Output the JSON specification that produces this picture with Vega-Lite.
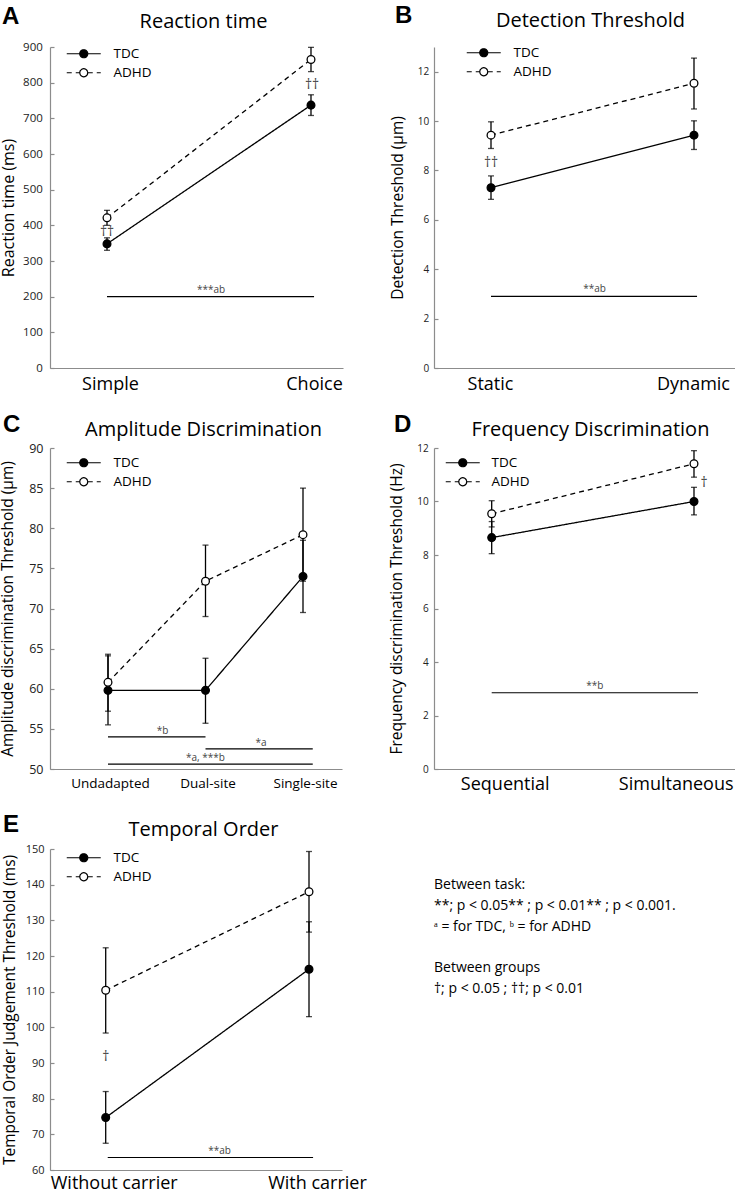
{
"$schema": "https://vega.github.io/schema/vega-lite/v6.json",
"background": "white",
"padding": {"top": 4, "left": 0, "right": 0, "bottom": 0},
"columns": 2,
"bounds": "flush",
"align": "each",
"spacing": {"row": 80, "column": 91},
"resolve": {"scale": {"x": "independent", "y": "independent", "fill": "independent", "strokeDash": "independent"}, "legend": {"fill": "independent", "strokeDash": "independent"}},
"datasets": {
"A": [
{"group": "TDC", "cond": "Simple", "idx": 0, "mean": 348, "lo": 330, "hi": 365},
{"group": "TDC", "cond": "Choice", "idx": 1, "mean": 737, "lo": 708, "hi": 766},
{"group": "ADHD", "cond": "Simple", "idx": 0, "mean": 421, "lo": 400, "hi": 442},
{"group": "ADHD", "cond": "Choice", "idx": 1, "mean": 865, "lo": 831, "hi": 899}],
"Asig": [{"x1": 0, "x2": 1.015, "xmid": 0.51, "y": 200, "label": "***ab"}],
"Adag": [{"x": 0, "y": 380, "text": "††"}, {"x": 1.005, "y": 793, "text": "††"}],
"B": [
{"group": "TDC", "cond": "Static", "idx": 0, "mean": 7.30, "lo": 6.83, "hi": 7.78},
{"group": "TDC", "cond": "Dynamic", "idx": 1, "mean": 9.43, "lo": 8.85, "hi": 10.01},
{"group": "ADHD", "cond": "Static", "idx": 0, "mean": 9.43, "lo": 8.89, "hi": 9.97},
{"group": "ADHD", "cond": "Dynamic", "idx": 1, "mean": 11.53, "lo": 10.49, "hi": 12.55}],
"Bsig": [{"x1": 0, "x2": 1.015, "xmid": 0.51, "y": 2.9, "label": "**ab"}],
"Bdag": [{"x": 0, "y": 8.29, "text": "††"}],
"C": [
{"group": "TDC", "cond": "Undadapted", "idx": 0, "mean": 59.8, "lo": 55.5, "hi": 64.1},
{"group": "TDC", "cond": "Dual-site", "idx": 1, "mean": 59.8, "lo": 55.7, "hi": 63.8},
{"group": "TDC", "cond": "Single-site", "idx": 2, "mean": 74.0, "lo": 69.5, "hi": 78.5},
{"group": "ADHD", "cond": "Undadapted", "idx": 0, "mean": 60.8, "lo": 57.2, "hi": 64.3},
{"group": "ADHD", "cond": "Dual-site", "idx": 1, "mean": 73.4, "lo": 69.0, "hi": 77.9},
{"group": "ADHD", "cond": "Single-site", "idx": 2, "mean": 79.2, "lo": 73.4, "hi": 85.0}],
"Csig": [
{"x1": 0, "x2": 1, "xmid": 0.56, "y": 54.0, "label": "*b"},
{"x1": 1, "x2": 2.1, "xmid": 1.57, "y": 52.5, "label": "*a"},
{"x1": 0, "x2": 2.1, "xmid": 1.0, "y": 50.6, "label": "*a, ***b"}],
"D": [
{"group": "TDC", "cond": "Sequential", "idx": 0, "mean": 8.65, "lo": 8.05, "hi": 9.25},
{"group": "TDC", "cond": "Simultaneous", "idx": 1, "mean": 10.0, "lo": 9.5, "hi": 10.53},
{"group": "ADHD", "cond": "Sequential", "idx": 0, "mean": 9.54, "lo": 9.05, "hi": 10.03},
{"group": "ADHD", "cond": "Simultaneous", "idx": 1, "mean": 11.41, "lo": 10.91, "hi": 11.9}],
"Dsig": [{"x1": 0, "x2": 1.02, "xmid": 0.51, "y": 2.85, "label": "**b"}],
"Ddag": [{"x": 1.05, "y": 10.7, "text": "†"}],
"E": [
{"group": "TDC", "cond": "Without carrier", "idx": 0, "mean": 74.7, "lo": 67.5, "hi": 82.0},
{"group": "TDC", "cond": "With carrier", "idx": 1, "mean": 116.3, "lo": 103.0, "hi": 129.6},
{"group": "ADHD", "cond": "Without carrier", "idx": 0, "mean": 110.4, "lo": 98.4, "hi": 122.3},
{"group": "ADHD", "cond": "With carrier", "idx": 1, "mean": 138.0, "lo": 126.7, "hi": 149.3}],
"Esig": [{"x1": 0.01, "x2": 1.02, "xmid": 0.56, "y": 63.5, "label": "**ab"}],
"Edag": [{"x": 0, "y": 91.6, "text": "†"}]
},
"concat": [
{
"width": 293, "height": 321,
"title": {"text": "A", "dx": -48, "dy": 42, "offset": 0, "baseline": "bottom"},
"resolve": {"axis": {"x": "independent", "y": "independent"}},
"layer": [
{"data": {"name": "A"}, "mark": {"type": "line", "color": "black", "strokeWidth": 1.3},
"encoding": {
"x": {"field": "idx", "type": "quantitative", "scale": {"domain": [-0.2794, 1.1569], "nice": false, "zero": false},
"axis": {"orient": "bottom", "values": [0, 1], "labelExpr": "datum.value == 0 ? 'Simple' : 'Choice'", "title": null, "ticks": false, "labelFontSize": 18, "labelPadding": 7, "labelOffset": 3, "labelFlush": false, "labelColor": "#000"}},
"y": {"field": "mean", "type": "quantitative", "scale": {"domain": [0, 900], "nice": false, "zero": false},
"axis": {"orient": "left", "values": [0, 100, 200, 300, 400, 500, 600, 700, 800, 900], "title": "Reaction time (ms)", "titleFontSize": 16, "labelFontSize": 11.5, "tickSize": -4, "labelPadding": 11.7, "titlePadding": 6.5}},
"strokeDash": {"field": "group", "type": "nominal", "scale": {"domain": ["TDC", "ADHD"], "range": [[1, 0], [5, 4]]},
"legend": {"title": null, "orient": "none", "legendX": 27, "legendY": 0, "symbolType": "M-3.4,0H-0.8M0.8,0H3.4M0.8,0A0.8,0.8,0,1,1,-0.8,0A0.8,0.8,0,1,1,0.8,0ZM0.8,0A0.8,0.8,0,0,1,0.4,0.693M0.4,0.693A0.8,0.8,0,0,1,-0.4,0.693M-0.4,0.693A0.8,0.8,0,0,1,-0.8,0M-0.8,0A0.8,0.8,0,0,1,-0.4,-0.693M-0.4,-0.693A0.8,0.8,0,0,1,0.4,-0.693M0.4,-0.693A0.8,0.8,0,0,1,0.8,0", "symbolSize": 100, "symbolStrokeColor": "black", "symbolStrokeWidth": 1.2, "labelFontSize": 13.5, "labelFont": "Open Sans", "labelColor": "black", "labelOffset": 23, "rowPadding": 4, "padding": 0}}}},
{"data": {"name": "A"}, "mark": {"type": "rule", "color": "black", "strokeWidth": 1.3},
"encoding": {"x": {"field": "idx", "type": "quantitative", "axis": null}, "y": {"field": "lo", "type": "quantitative", "axis": null}, "y2": {"field": "hi"}}},
{"data": {"name": "A"}, "mark": {"type": "tick", "orient": "horizontal", "color": "black", "size": 6, "thickness": 1.3},
"encoding": {"x": {"field": "idx", "type": "quantitative", "axis": null}, "y": {"field": "lo", "type": "quantitative", "axis": null}}},
{"data": {"name": "A"}, "mark": {"type": "tick", "orient": "horizontal", "color": "black", "size": 6, "thickness": 1.3},
"encoding": {"x": {"field": "idx", "type": "quantitative", "axis": null}, "y": {"field": "hi", "type": "quantitative", "axis": null}}},
{"data": {"name": "A"}, "mark": {"type": "point", "shape": "circle", "filled": true, "size": 60, "stroke": "black", "strokeWidth": 1.3, "opacity": 1},
"encoding": {"x": {"field": "idx", "type": "quantitative", "axis": null}, "y": {"field": "mean", "type": "quantitative", "axis": null},
"fill": {"field": "group", "type": "nominal", "scale": {"domain": ["TDC", "ADHD"], "range": ["black", "white"]},
"legend": {"title": null, "orient": "none", "legendX": 27, "legendY": 0, "symbolType": "M-3.4,0H-0.8M0.8,0H3.4M0.8,0A0.8,0.8,0,1,1,-0.8,0A0.8,0.8,0,1,1,0.8,0ZM0.8,0A0.8,0.8,0,0,1,0.4,0.693M0.4,0.693A0.8,0.8,0,0,1,-0.4,0.693M-0.4,0.693A0.8,0.8,0,0,1,-0.8,0M-0.8,0A0.8,0.8,0,0,1,-0.4,-0.693M-0.4,-0.693A0.8,0.8,0,0,1,0.4,-0.693M0.4,-0.693A0.8,0.8,0,0,1,0.8,0", "symbolSize": 100, "symbolStrokeColor": "black", "symbolStrokeWidth": 1.2, "labelFontSize": 13.5, "labelFont": "Open Sans", "labelColor": "black", "labelOffset": 23, "rowPadding": 4, "padding": 0}}}},
{"data": {"name": "Asig"}, "mark": {"type": "rule", "color": "black", "strokeWidth": 1.2},
"encoding": {"x": {"field": "x1", "type": "quantitative", "axis": {"orient": "top", "title": "Reaction time", "titleFontSize": 20, "titlePadding": 20, "titleX": 153, "titleBaseline": "alphabetic", "labels": false, "ticks": false, "domain": false}}, "x2": {"field": "x2"}, "y": {"field": "y", "type": "quantitative", "axis": null}}},
{"data": {"name": "Asig"}, "mark": {"type": "text", "fontSize": 10, "color": "#444", "fill": "#444", "baseline": "alphabetic", "dy": -4},
"encoding": {"x": {"field": "xmid", "type": "quantitative", "axis": null}, "y": {"field": "y", "type": "quantitative", "axis": null}, "text": {"field": "label"}}},
{"data": {"name": "Adag"}, "mark": {"type": "text", "fontSize": 14, "color": "#444", "fill": "#444", "baseline": "middle"},
"encoding": {"x": {"field": "x", "type": "quantitative", "axis": null}, "y": {"field": "y", "type": "quantitative", "axis": null}, "text": {"field": "text"}}}
]
},
{
"width": 301, "height": 321,
"title": {"text": "B", "dx": -39, "dy": 42, "offset": 0, "baseline": "bottom"},
"resolve": {"axis": {"x": "independent", "y": "independent"}},
"layer": [
{"data": {"name": "B"}, "mark": {"type": "line", "color": "black", "strokeWidth": 1.3},
"encoding": {
"x": {"field": "idx", "type": "quantitative", "scale": {"domain": [-0.2808, 1.202], "nice": false, "zero": false},
"axis": {"orient": "bottom", "values": [0, 1], "labelExpr": "datum.value == 0 ? 'Static' : 'Dynamic'", "title": null, "ticks": false, "labelFontSize": 18, "labelPadding": 7, "labelOffset": -1, "labelFlush": false, "labelColor": "#000"}},
"y": {"field": "mean", "type": "quantitative", "scale": {"domain": [0, 13], "nice": false, "zero": false},
"axis": {"orient": "left", "values": [0, 2, 4, 6, 8, 10, 12], "title": "Detection Threshold (μm)", "titleFontSize": 15.5, "labelFontSize": 10, "tickSize": -4, "labelPadding": 9.3, "titlePadding": 12}},
"strokeDash": {"field": "group", "type": "nominal", "scale": {"domain": ["TDC", "ADHD"], "range": [[1, 0], [5, 4]]},
"legend": {"title": null, "orient": "none", "legendX": 43, "legendY": -1, "symbolType": "M-3.4,0H-0.8M0.8,0H3.4M0.8,0A0.8,0.8,0,1,1,-0.8,0A0.8,0.8,0,1,1,0.8,0ZM0.8,0A0.8,0.8,0,0,1,0.4,0.693M0.4,0.693A0.8,0.8,0,0,1,-0.4,0.693M-0.4,0.693A0.8,0.8,0,0,1,-0.8,0M-0.8,0A0.8,0.8,0,0,1,-0.4,-0.693M-0.4,-0.693A0.8,0.8,0,0,1,0.4,-0.693M0.4,-0.693A0.8,0.8,0,0,1,0.8,0", "symbolSize": 100, "symbolStrokeColor": "black", "symbolStrokeWidth": 1.2, "labelFontSize": 13.5, "labelFont": "Open Sans", "labelColor": "black", "labelOffset": 23, "rowPadding": 4, "padding": 0}}}},
{"data": {"name": "B"}, "mark": {"type": "rule", "color": "black", "strokeWidth": 1.3},
"encoding": {"x": {"field": "idx", "type": "quantitative", "axis": null}, "y": {"field": "lo", "type": "quantitative", "axis": null}, "y2": {"field": "hi"}}},
{"data": {"name": "B"}, "mark": {"type": "tick", "orient": "horizontal", "color": "black", "size": 6, "thickness": 1.3},
"encoding": {"x": {"field": "idx", "type": "quantitative", "axis": null}, "y": {"field": "lo", "type": "quantitative", "axis": null}}},
{"data": {"name": "B"}, "mark": {"type": "tick", "orient": "horizontal", "color": "black", "size": 6, "thickness": 1.3},
"encoding": {"x": {"field": "idx", "type": "quantitative", "axis": null}, "y": {"field": "hi", "type": "quantitative", "axis": null}}},
{"data": {"name": "B"}, "mark": {"type": "point", "shape": "circle", "filled": true, "size": 60, "stroke": "black", "strokeWidth": 1.3, "opacity": 1},
"encoding": {"x": {"field": "idx", "type": "quantitative", "axis": null}, "y": {"field": "mean", "type": "quantitative", "axis": null},
"fill": {"field": "group", "type": "nominal", "scale": {"domain": ["TDC", "ADHD"], "range": ["black", "white"]},
"legend": {"title": null, "orient": "none", "legendX": 43, "legendY": -1, "symbolType": "M-3.4,0H-0.8M0.8,0H3.4M0.8,0A0.8,0.8,0,1,1,-0.8,0A0.8,0.8,0,1,1,0.8,0ZM0.8,0A0.8,0.8,0,0,1,0.4,0.693M0.4,0.693A0.8,0.8,0,0,1,-0.4,0.693M-0.4,0.693A0.8,0.8,0,0,1,-0.8,0M-0.8,0A0.8,0.8,0,0,1,-0.4,-0.693M-0.4,-0.693A0.8,0.8,0,0,1,0.4,-0.693M0.4,-0.693A0.8,0.8,0,0,1,0.8,0", "symbolSize": 100, "symbolStrokeColor": "black", "symbolStrokeWidth": 1.2, "labelFontSize": 13.5, "labelFont": "Open Sans", "labelColor": "black", "labelOffset": 23, "rowPadding": 4, "padding": 0}}}},
{"data": {"name": "Bsig"}, "mark": {"type": "rule", "color": "black", "strokeWidth": 1.2},
"encoding": {"x": {"field": "x1", "type": "quantitative", "axis": {"orient": "top", "title": "Detection Threshold", "titleFontSize": 20, "titlePadding": 21, "titleX": 156, "titleBaseline": "alphabetic", "labels": false, "ticks": false, "domain": false}}, "x2": {"field": "x2"}, "y": {"field": "y", "type": "quantitative", "axis": null}}},
{"data": {"name": "Bsig"}, "mark": {"type": "text", "fontSize": 10, "color": "#444", "fill": "#444", "baseline": "alphabetic", "dy": -4},
"encoding": {"x": {"field": "xmid", "type": "quantitative", "axis": null}, "y": {"field": "y", "type": "quantitative", "axis": null}, "text": {"field": "label"}}},
{"data": {"name": "Bdag"}, "mark": {"type": "text", "fontSize": 14, "color": "#444", "fill": "#444", "baseline": "middle"},
"encoding": {"x": {"field": "x", "type": "quantitative", "axis": null}, "y": {"field": "y", "type": "quantitative", "axis": null}, "text": {"field": "text"}}}
]
},
{
"width": 292, "height": 321,
"title": {"text": "C", "dx": -47, "dy": 42, "offset": 0, "baseline": "bottom"},
"resolve": {"axis": {"x": "independent", "y": "independent"}},
"layer": [
{"data": {"name": "C"}, "mark": {"type": "line", "color": "black", "strokeWidth": 1.3},
"encoding": {
"x": {"field": "idx", "type": "quantitative", "scale": {"domain": [-0.5949, 2.4], "nice": false, "zero": false},
"axis": {"orient": "bottom", "values": [0, 1, 2], "labelExpr": "datum.value == 0 ? 'Undadapted' : datum.value == 1 ? 'Dual-site' : 'Single-site'", "title": null, "ticks": false, "labelFontSize": 13.5, "labelPadding": 7, "labelOffset": 2, "labelFlush": false, "labelColor": "#000"}},
"y": {"field": "mean", "type": "quantitative", "scale": {"domain": [50, 90], "nice": false, "zero": false},
"axis": {"orient": "left", "values": [50, 55, 60, 65, 70, 75, 80, 85, 90], "title": "Amplitude discrimination Threshold (μm)", "titleFontSize": 15.5, "labelFontSize": 12.5, "tickSize": -4, "labelPadding": 11, "titlePadding": 13}},
"strokeDash": {"field": "group", "type": "nominal", "scale": {"domain": ["TDC", "ADHD"], "range": [[1, 0], [5, 4]]},
"legend": {"title": null, "orient": "none", "legendX": 27, "legendY": 8, "symbolType": "M-3.4,0H-0.8M0.8,0H3.4M0.8,0A0.8,0.8,0,1,1,-0.8,0A0.8,0.8,0,1,1,0.8,0ZM0.8,0A0.8,0.8,0,0,1,0.4,0.693M0.4,0.693A0.8,0.8,0,0,1,-0.4,0.693M-0.4,0.693A0.8,0.8,0,0,1,-0.8,0M-0.8,0A0.8,0.8,0,0,1,-0.4,-0.693M-0.4,-0.693A0.8,0.8,0,0,1,0.4,-0.693M0.4,-0.693A0.8,0.8,0,0,1,0.8,0", "symbolSize": 100, "symbolStrokeColor": "black", "symbolStrokeWidth": 1.2, "labelFontSize": 13.5, "labelFont": "Open Sans", "labelColor": "black", "labelOffset": 23, "rowPadding": 4, "padding": 0}}}},
{"data": {"name": "C"}, "mark": {"type": "rule", "color": "black", "strokeWidth": 1.3},
"encoding": {"x": {"field": "idx", "type": "quantitative", "axis": null}, "y": {"field": "lo", "type": "quantitative", "axis": null}, "y2": {"field": "hi"}}},
{"data": {"name": "C"}, "mark": {"type": "tick", "orient": "horizontal", "color": "black", "size": 6, "thickness": 1.3},
"encoding": {"x": {"field": "idx", "type": "quantitative", "axis": null}, "y": {"field": "lo", "type": "quantitative", "axis": null}}},
{"data": {"name": "C"}, "mark": {"type": "tick", "orient": "horizontal", "color": "black", "size": 6, "thickness": 1.3},
"encoding": {"x": {"field": "idx", "type": "quantitative", "axis": null}, "y": {"field": "hi", "type": "quantitative", "axis": null}}},
{"data": {"name": "C"}, "mark": {"type": "point", "shape": "circle", "filled": true, "size": 60, "stroke": "black", "strokeWidth": 1.3, "opacity": 1},
"encoding": {"x": {"field": "idx", "type": "quantitative", "axis": null}, "y": {"field": "mean", "type": "quantitative", "axis": null},
"fill": {"field": "group", "type": "nominal", "scale": {"domain": ["TDC", "ADHD"], "range": ["black", "white"]},
"legend": {"title": null, "orient": "none", "legendX": 27, "legendY": 8, "symbolType": "M-3.4,0H-0.8M0.8,0H3.4M0.8,0A0.8,0.8,0,1,1,-0.8,0A0.8,0.8,0,1,1,0.8,0ZM0.8,0A0.8,0.8,0,0,1,0.4,0.693M0.4,0.693A0.8,0.8,0,0,1,-0.4,0.693M-0.4,0.693A0.8,0.8,0,0,1,-0.8,0M-0.8,0A0.8,0.8,0,0,1,-0.4,-0.693M-0.4,-0.693A0.8,0.8,0,0,1,0.4,-0.693M0.4,-0.693A0.8,0.8,0,0,1,0.8,0", "symbolSize": 100, "symbolStrokeColor": "black", "symbolStrokeWidth": 1.2, "labelFontSize": 13.5, "labelFont": "Open Sans", "labelColor": "black", "labelOffset": 23, "rowPadding": 4, "padding": 0}}}},
{"data": {"name": "Csig"}, "mark": {"type": "rule", "color": "black", "strokeWidth": 1.2},
"encoding": {"x": {"field": "x1", "type": "quantitative", "axis": {"orient": "top", "title": "Amplitude Discrimination", "titleFontSize": 20, "titlePadding": 13, "titleX": 153, "titleBaseline": "alphabetic", "labels": false, "ticks": false, "domain": false}}, "x2": {"field": "x2"}, "y": {"field": "y", "type": "quantitative", "axis": null}}},
{"data": {"name": "Csig"}, "mark": {"type": "text", "fontSize": 10, "color": "#444", "fill": "#444", "baseline": "alphabetic", "dy": -3},
"encoding": {"x": {"field": "xmid", "type": "quantitative", "axis": null}, "y": {"field": "y", "type": "quantitative", "axis": null}, "text": {"field": "label"}}}
]
},
{
"width": 301, "height": 321,
"title": {"text": "D", "dx": -40, "dy": 42, "offset": 0, "baseline": "bottom"},
"resolve": {"axis": {"x": "independent", "y": "independent"}},
"layer": [
{"data": {"name": "D"}, "mark": {"type": "line", "color": "black", "strokeWidth": 1.3},
"encoding": {
"x": {"field": "idx", "type": "quantitative", "scale": {"domain": [-0.2852, 1.2027], "nice": false, "zero": false},
"axis": {"orient": "bottom", "values": [0, 1], "labelExpr": "datum.value == 0 ? 'Sequential' : 'Simultaneous'", "title": null, "ticks": false, "labelFontSize": 18, "labelPadding": 6, "labelOffset": 13, "labelFlush": 45, "labelFlushOffset": 26, "labelColor": "#000"}},
"y": {"field": "mean", "type": "quantitative", "scale": {"domain": [0, 12], "nice": false, "zero": false},
"axis": {"orient": "left", "values": [0, 2, 4, 6, 8, 10, 12], "title": "Frequency discrimination Threshold (Hz)", "titleFontSize": 15.5, "labelFontSize": 10, "tickSize": -4, "labelPadding": 9.7, "titlePadding": 12}},
"strokeDash": {"field": "group", "type": "nominal", "scale": {"domain": ["TDC", "ADHD"], "range": [[1, 0], [5, 4]]},
"legend": {"title": null, "orient": "none", "legendX": 22, "legendY": 8, "symbolType": "M-3.4,0H-0.8M0.8,0H3.4M0.8,0A0.8,0.8,0,1,1,-0.8,0A0.8,0.8,0,1,1,0.8,0ZM0.8,0A0.8,0.8,0,0,1,0.4,0.693M0.4,0.693A0.8,0.8,0,0,1,-0.4,0.693M-0.4,0.693A0.8,0.8,0,0,1,-0.8,0M-0.8,0A0.8,0.8,0,0,1,-0.4,-0.693M-0.4,-0.693A0.8,0.8,0,0,1,0.4,-0.693M0.4,-0.693A0.8,0.8,0,0,1,0.8,0", "symbolSize": 100, "symbolStrokeColor": "black", "symbolStrokeWidth": 1.2, "labelFontSize": 13.5, "labelFont": "Open Sans", "labelColor": "black", "labelOffset": 22, "rowPadding": 4, "padding": 0}}}},
{"data": {"name": "D"}, "mark": {"type": "rule", "color": "black", "strokeWidth": 1.3},
"encoding": {"x": {"field": "idx", "type": "quantitative", "axis": null}, "y": {"field": "lo", "type": "quantitative", "axis": null}, "y2": {"field": "hi"}}},
{"data": {"name": "D"}, "mark": {"type": "tick", "orient": "horizontal", "color": "black", "size": 6, "thickness": 1.3},
"encoding": {"x": {"field": "idx", "type": "quantitative", "axis": null}, "y": {"field": "lo", "type": "quantitative", "axis": null}}},
{"data": {"name": "D"}, "mark": {"type": "tick", "orient": "horizontal", "color": "black", "size": 6, "thickness": 1.3},
"encoding": {"x": {"field": "idx", "type": "quantitative", "axis": null}, "y": {"field": "hi", "type": "quantitative", "axis": null}}},
{"data": {"name": "D"}, "mark": {"type": "point", "shape": "circle", "filled": true, "size": 60, "stroke": "black", "strokeWidth": 1.3, "opacity": 1},
"encoding": {"x": {"field": "idx", "type": "quantitative", "axis": null}, "y": {"field": "mean", "type": "quantitative", "axis": null},
"fill": {"field": "group", "type": "nominal", "scale": {"domain": ["TDC", "ADHD"], "range": ["black", "white"]},
"legend": {"title": null, "orient": "none", "legendX": 22, "legendY": 8, "symbolType": "M-3.4,0H-0.8M0.8,0H3.4M0.8,0A0.8,0.8,0,1,1,-0.8,0A0.8,0.8,0,1,1,0.8,0ZM0.8,0A0.8,0.8,0,0,1,0.4,0.693M0.4,0.693A0.8,0.8,0,0,1,-0.4,0.693M-0.4,0.693A0.8,0.8,0,0,1,-0.8,0M-0.8,0A0.8,0.8,0,0,1,-0.4,-0.693M-0.4,-0.693A0.8,0.8,0,0,1,0.4,-0.693M0.4,-0.693A0.8,0.8,0,0,1,0.8,0", "symbolSize": 100, "symbolStrokeColor": "black", "symbolStrokeWidth": 1.2, "labelFontSize": 13.5, "labelFont": "Open Sans", "labelColor": "black", "labelOffset": 22, "rowPadding": 4, "padding": 0}}}},
{"data": {"name": "Dsig"}, "mark": {"type": "rule", "color": "black", "strokeWidth": 1.2},
"encoding": {"x": {"field": "x1", "type": "quantitative", "axis": {"orient": "top", "title": "Frequency Discrimination", "titleFontSize": 20, "titlePadding": 13, "titleX": 156, "titleBaseline": "alphabetic", "labels": false, "ticks": false, "domain": false}}, "x2": {"field": "x2"}, "y": {"field": "y", "type": "quantitative", "axis": null}}},
{"data": {"name": "Dsig"}, "mark": {"type": "text", "fontSize": 10, "color": "#444", "fill": "#444", "baseline": "alphabetic", "dy": -4},
"encoding": {"x": {"field": "xmid", "type": "quantitative", "axis": null}, "y": {"field": "y", "type": "quantitative", "axis": null}, "text": {"field": "label"}}},
{"data": {"name": "Ddag"}, "mark": {"type": "text", "fontSize": 14, "color": "#444", "fill": "#444", "baseline": "middle"},
"encoding": {"x": {"field": "x", "type": "quantitative", "axis": null}, "y": {"field": "y", "type": "quantitative", "axis": null}, "text": {"field": "text"}}}
]
},
{
"width": 292, "height": 321,
"title": {"text": "E", "dx": -47, "dy": 42, "offset": 0, "baseline": "bottom"},
"resolve": {"axis": {"x": "independent", "y": "independent"}},
"layer": [
{"data": {"name": "E"}, "mark": {"type": "line", "color": "black", "strokeWidth": 1.3},
"encoding": {
"x": {"field": "idx", "type": "quantitative", "scale": {"domain": [-0.274, 1.1623], "nice": false, "zero": false},
"axis": {"orient": "bottom", "values": [0, 1], "labelExpr": "datum.value == 0 ? 'Without carrier' : 'With carrier'", "title": null, "ticks": false, "labelFontSize": 18, "labelPadding": 4, "labelOffset": 8, "labelFlush": false, "labelColor": "#000"}},
"y": {"field": "mean", "type": "quantitative", "scale": {"domain": [60, 150], "nice": false, "zero": false},
"axis": {"orient": "left", "values": [60, 70, 80, 90, 100, 110, 120, 130, 140, 150], "title": "Temporal Order Judgement Threshold (ms)", "titleFontSize": 15.5, "labelFontSize": 11, "tickSize": -4, "labelPadding": 10, "titlePadding": 8}},
"strokeDash": {"field": "group", "type": "nominal", "scale": {"domain": ["TDC", "ADHD"], "range": [[1, 0], [5, 4]]},
"legend": {"title": null, "orient": "none", "legendX": 27, "legendY": 2, "symbolType": "M-3.4,0H-0.8M0.8,0H3.4M0.8,0A0.8,0.8,0,1,1,-0.8,0A0.8,0.8,0,1,1,0.8,0ZM0.8,0A0.8,0.8,0,0,1,0.4,0.693M0.4,0.693A0.8,0.8,0,0,1,-0.4,0.693M-0.4,0.693A0.8,0.8,0,0,1,-0.8,0M-0.8,0A0.8,0.8,0,0,1,-0.4,-0.693M-0.4,-0.693A0.8,0.8,0,0,1,0.4,-0.693M0.4,-0.693A0.8,0.8,0,0,1,0.8,0", "symbolSize": 100, "symbolStrokeColor": "black", "symbolStrokeWidth": 1.2, "labelFontSize": 13.5, "labelFont": "Open Sans", "labelColor": "black", "labelOffset": 23, "rowPadding": 4, "padding": 0}}}},
{"data": {"name": "E"}, "mark": {"type": "rule", "color": "black", "strokeWidth": 1.3},
"encoding": {"x": {"field": "idx", "type": "quantitative", "axis": null}, "y": {"field": "lo", "type": "quantitative", "axis": null}, "y2": {"field": "hi"}}},
{"data": {"name": "E"}, "mark": {"type": "tick", "orient": "horizontal", "color": "black", "size": 6, "thickness": 1.3},
"encoding": {"x": {"field": "idx", "type": "quantitative", "axis": null}, "y": {"field": "lo", "type": "quantitative", "axis": null}}},
{"data": {"name": "E"}, "mark": {"type": "tick", "orient": "horizontal", "color": "black", "size": 6, "thickness": 1.3},
"encoding": {"x": {"field": "idx", "type": "quantitative", "axis": null}, "y": {"field": "hi", "type": "quantitative", "axis": null}}},
{"data": {"name": "E"}, "mark": {"type": "point", "shape": "circle", "filled": true, "size": 60, "stroke": "black", "strokeWidth": 1.3, "opacity": 1},
"encoding": {"x": {"field": "idx", "type": "quantitative", "axis": null}, "y": {"field": "mean", "type": "quantitative", "axis": null},
"fill": {"field": "group", "type": "nominal", "scale": {"domain": ["TDC", "ADHD"], "range": ["black", "white"]},
"legend": {"title": null, "orient": "none", "legendX": 27, "legendY": 2, "symbolType": "M-3.4,0H-0.8M0.8,0H3.4M0.8,0A0.8,0.8,0,1,1,-0.8,0A0.8,0.8,0,1,1,0.8,0ZM0.8,0A0.8,0.8,0,0,1,0.4,0.693M0.4,0.693A0.8,0.8,0,0,1,-0.4,0.693M-0.4,0.693A0.8,0.8,0,0,1,-0.8,0M-0.8,0A0.8,0.8,0,0,1,-0.4,-0.693M-0.4,-0.693A0.8,0.8,0,0,1,0.4,-0.693M0.4,-0.693A0.8,0.8,0,0,1,0.8,0", "symbolSize": 100, "symbolStrokeColor": "black", "symbolStrokeWidth": 1.2, "labelFontSize": 13.5, "labelFont": "Open Sans", "labelColor": "black", "labelOffset": 23, "rowPadding": 4, "padding": 0}}}},
{"data": {"name": "Esig"}, "mark": {"type": "rule", "color": "black", "strokeWidth": 1.2},
"encoding": {"x": {"field": "x1", "type": "quantitative", "axis": {"orient": "top", "title": "Temporal Order", "titleFontSize": 20, "titlePadding": 14, "titleX": 153, "titleBaseline": "alphabetic", "labels": false, "ticks": false, "domain": false}}, "x2": {"field": "x2"}, "y": {"field": "y", "type": "quantitative", "axis": null}}},
{"data": {"name": "Esig"}, "mark": {"type": "text", "fontSize": 10, "color": "#444", "fill": "#444", "baseline": "alphabetic", "dy": -4},
"encoding": {"x": {"field": "xmid", "type": "quantitative", "axis": null}, "y": {"field": "y", "type": "quantitative", "axis": null}, "text": {"field": "label"}}},
{"data": {"name": "Edag"}, "mark": {"type": "text", "fontSize": 14, "color": "#444", "fill": "#444", "baseline": "middle"},
"encoding": {"x": {"field": "x", "type": "quantitative", "axis": null}, "y": {"field": "y", "type": "quantitative", "axis": null}, "text": {"field": "text"}}}
]
},
{
"width": 301, "height": 321,
"data": {"values": []},
"mark": "text",
"title": {"text": ["Between task:", "**; p < 0.05** ; p < 0.01** ; p < 0.001.", "ᵃ = for TDC, ᵇ = for ADHD"], "subtitle": ["Between groups", "†; p < 0.05 ; ††; p < 0.01"], "font": "Open Sans", "fontSize": 14, "fontWeight": "normal", "lineHeight": 21, "subtitleFont": "Open Sans", "subtitleFontSize": 14, "subtitleFontWeight": "normal", "subtitleLineHeight": 21, "subtitleColor": "#000", "subtitlePadding": 27, "baseline": "top", "offset": 0, "dy": 147, "dx": 0}
}
],
"config": {
"font": "Open Sans",
"view": {"stroke": null},
"axis": {"grid": false, "domainColor": "#8c8c8c", "tickColor": "#8c8c8c", "labelColor": "#222", "titleColor": "#000", "labelFont": "Open Sans", "titleFont": "Open Sans", "titleFontWeight": "normal", "domainWidth": 1.2, "tickWidth": 1.2},
"title": {"font": "Liberation Sans", "fontSize": 24, "fontWeight": "bold", "anchor": "start", "frame": "group", "color": "#000"},
"text": {"font": "Open Sans"}
}
}
